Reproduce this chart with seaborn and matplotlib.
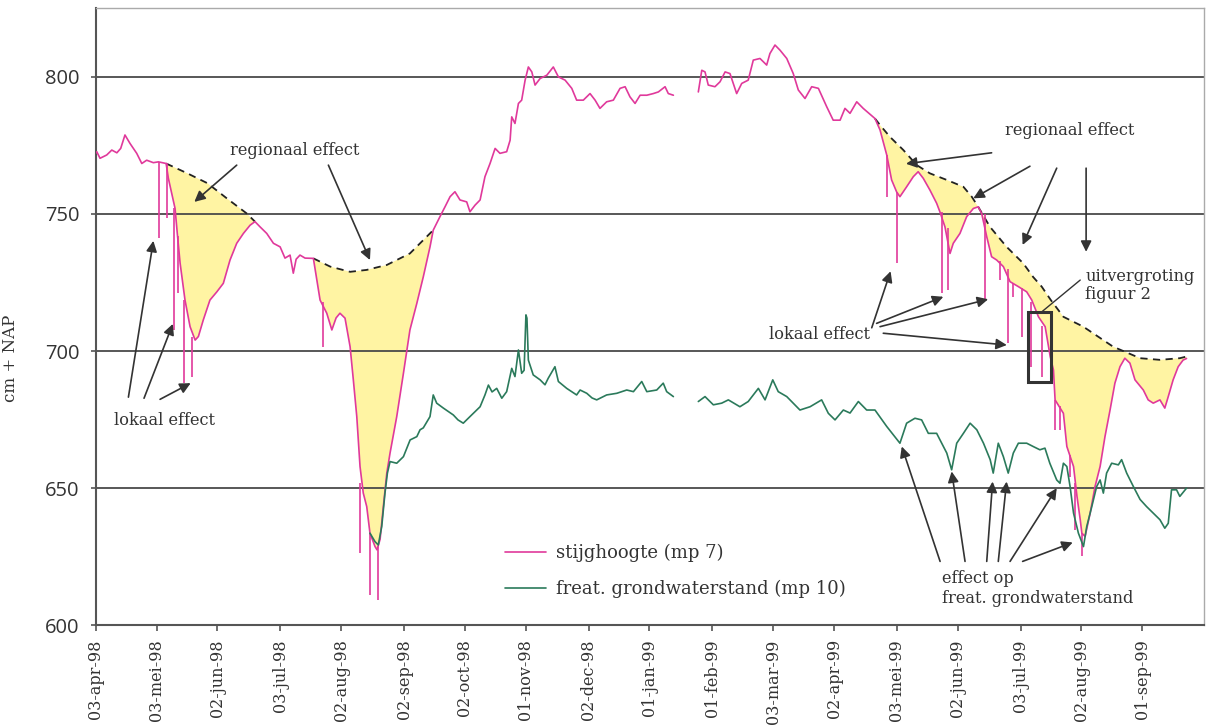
import numpy as np
import pandas as pd
import matplotlib
matplotlib.use("Agg")
import matplotlib.pyplot as plt
import matplotlib.dates as mdates
from matplotlib.lines import Line2D
from matplotlib.patches import Rectangle
import seaborn as sns

START = pd.Timestamp("1998-04-03")

# stijghoogte mp 7 (cm + NAP), dagen na 03-apr-98, zonder de korte pieken
stijg98_dag = [-1.5, 0.5, 2.1, 5.4, 7.9, 10.4, 12.3, 14.4, 16.9, 20.2, 22.7, 25.1, 28.4, 30.9, 34.7,
               35.8, 39.1, 40.2, 41.6, 44.0, 46.5, 49.0, 50.6, 53.0, 56.3, 59.7, 62.9, 66.2, 69.5,
               72.8, 76.1, 78.5, 81.0, 84.3, 87.6, 90.9, 93.3, 95.8, 97.4, 98.8, 100.7, 103.2, 107.3,
               110.6, 113.9, 116.4, 118.5, 120.4, 122.9, 125.4, 127.0, 128.7, 130.3, 131.9, 133.6,
               135.2, 137.7, 138.7, 140.2, 141.8, 143.5, 145.1, 148.4, 151.7, 154.9, 158.3, 161.5,
               164.8, 166.4, 169.7, 172.2, 174.7, 177.1, 179.6, 182.9, 184.5, 187.0, 189.5, 191.9,
               194.4, 196.9, 199.3, 202.6, 204.3, 205.1, 206.7, 208.4, 210.0, 211.7, 213.3, 215.0,
               216.6, 219.1, 222.4, 225.6, 228.1, 231.4, 234.7, 237.1, 240.4, 243.7, 246.2, 248.6,
               251.9, 255.2, 258.5, 261.0, 263.4, 265.9, 268.4, 271.7, 274.9, 277.4, 280.7, 282.3, 284.8]
stijg98_cm = [770.8, 772.7, 770.3, 771.5, 773.3, 772.3, 773.9, 778.8, 775.7, 772.1, 768.4, 769.6, 768.7, 769.0, 768.4,
              763.0, 752.0, 742.9, 732.0, 718.6, 708.9, 704.0, 705.3, 711.3, 718.6, 721.6, 724.7, 733.2, 739.3,
              742.9, 745.9, 747.2, 745.3, 742.9, 739.3, 738.0, 733.9, 735.0, 728.4, 733.5, 735.0, 733.9, 733.8,
              718.6, 713.8, 707.7, 712.1, 713.8, 712.0, 701.6, 689.5, 676.1, 657.9, 648.2, 643.3,
              633.6, 628.7, 627.5, 631.4, 643.3, 655.5, 662.8, 676.1, 691.9, 707.7, 717.4, 727.1,
              738.0, 744.1, 749.0, 752.6, 756.3, 758.1, 755.1, 754.4, 750.8, 753.2, 755.1, 763.6,
              768.4, 773.9, 772.1, 772.7, 776.9, 785.4, 783.0, 790.3, 791.5, 798.8, 803.6, 801.8,
              797.0, 799.4, 800.6, 803.6, 800.0, 798.8, 795.8, 791.5, 791.5, 793.9, 791.5, 788.5,
              790.9, 791.5, 795.8, 796.4, 792.7, 790.3, 793.3, 793.3, 793.9, 794.5, 796.4, 793.9, 793.3]

stijg99_dag = [297.1, 298.8, 300.4, 302.0, 305.3, 307.8, 310.3, 312.7, 316.0, 318.5, 321.7, 324.2, 327.5,
               330.8, 332.4, 334.9, 337.4, 340.7, 343.9, 346.4, 349.7, 353.0, 356.3, 360.4, 363.6, 367.0,
               369.4, 371.9, 375.2, 378.4, 384.2, 386.7, 390.0, 392.4, 394.9, 396.5, 399.8, 403.1, 405.5,
               408.0, 411.3, 414.6, 416.2, 418.7, 421.2, 422.8, 426.1, 429.4, 432.7, 435.1, 436.8, 439.3,
               441.7, 444.2, 447.5, 450.8, 454.9, 459.0, 461.5, 464.8, 468.1, 470.6, 472.2, 473.0, 477.1,
               478.8, 482.1, 483.8, 485.4, 486.2, 487.8, 490.3, 492.7, 495.2, 497.6, 500.1, 502.5, 505.0,
               507.4, 509.9, 512.4, 516.5, 518.9, 521.4, 524.7, 527.1, 528.8, 531.2, 533.7, 536.1, 537.8]
stijg99_cm = [794.5, 802.4, 801.8, 797.0, 796.4, 798.2, 801.8, 801.2, 793.9, 797.6, 798.8, 806.1, 806.7,
              804.3, 808.5, 811.6, 809.7, 806.7, 801.2, 795.2, 792.1, 796.4, 795.8, 789.1, 784.2, 784.2,
              788.5, 786.7, 790.9, 788.5, 784.8, 780.6, 771.5, 762.4, 758.0, 756.3, 759.9, 763.6, 765.4,
              763.0, 758.7, 753.9, 750.8, 745.3, 735.6, 739.3, 742.9, 749.0, 752.0, 752.6, 750.2, 741.7,
              734.4, 733.2, 730.8, 725.3, 723.5, 721.6, 718.6, 712.5, 708.9, 698.0, 693.1, 682.2, 677.3,
              665.2, 657.9, 647.0, 638.5, 633.6, 632.4, 640.9, 650.6, 657.9, 668.8, 678.5, 688.3, 694.3,
              697.4, 695.6, 689.5, 685.8, 682.2, 681.0, 682.2, 679.2, 683.4, 689.5, 694.3, 696.7, 697.3]

# korte pieken in de stijghoogte (lokaal effect): dag, bovenkant, onderkant
piek_dag = [31.1, 35.0, 38.6, 40.7, 43.6, 47.3, 112.2, 130.4, 135.2, 139.3,
            390.0, 394.9, 417.1, 420.4, 438.5, 445.8, 449.9, 452.4, 456.5, 461.0,
            466.4, 473.0, 475.5, 480.3, 482.8, 486.2]
piek_boven = [769.0, 768.4, 752.0, 742.0, 718.6, 705.3, 718.0, 652.0, 633.6, 629.0,
              771.5, 758.0, 750.8, 745.0, 750.0, 733.0, 730.0, 725.0, 723.0, 718.0,
              709.0, 682.0, 680.0, 662.0, 652.0, 633.6]
piek_onder = [741.1, 748.4, 707.7, 721.0, 688.3, 690.7, 701.6, 626.3, 611.1, 609.3,
              756.3, 732.0, 721.1, 722.3, 718.6, 726.0, 702.8, 719.8, 705.3, 694.3,
              690.7, 671.3, 671.3, 654.2, 634.8, 625.1]

# freatische grondwaterstand mp 10
freat98_dag = [135.2, 137.7, 139.3, 141.0, 142.6, 143.8, 145.1, 148.4, 151.7, 155.0, 158.3, 159.9, 161.5,
               164.8, 166.4, 168.1, 171.4, 176.3, 178.6, 181.2, 184.5, 189.5, 191.9, 193.6, 195.4, 197.7,
               200.2, 202.6, 205.1, 206.7, 208.4, 210.0, 211.2, 212.1, 212.6, 213.3, 215.7, 219.1, 221.5,
               223.1, 226.4, 228.1, 232.2, 237.1, 238.8, 242.1, 244.7, 247.0, 251.9, 256.9, 261.8, 265.1,
               269.2, 271.7, 276.6, 279.8, 281.5, 284.8]
freat98_cm = [633.6, 630.5, 629.3, 636.0, 648.2, 655.5, 659.7, 659.1, 661.5, 667.6, 668.8, 671.3, 672.0,
              676.1, 684.0, 681.0, 679.2, 676.7, 674.9, 673.7, 676.1, 679.7, 684.0, 687.6, 685.1, 686.4,
              682.8, 685.2, 693.7, 690.7, 700.4, 691.9, 693.0, 713.2, 712.0, 696.7, 691.3, 689.5, 687.7,
              690.1, 694.3, 688.9, 686.4, 684.0, 685.8, 684.6, 682.9, 682.2, 684.0, 684.6, 685.8, 685.2,
              688.9, 685.2, 685.8, 688.3, 685.2, 683.4]

freat99_dag = [297.1, 300.4, 304.5, 308.6, 311.9, 317.6, 321.7, 326.7, 330.0, 333.8, 336.5, 340.7, 347.2,
               352.2, 357.9, 361.2, 364.5, 368.6, 371.9, 376.0, 380.1, 384.2, 390.0, 396.5, 399.8, 403.9,
               407.2, 410.5, 414.6, 419.6, 422.0, 424.5, 427.8, 431.1, 434.4, 437.7, 441.0, 442.5, 445.0,
               447.5, 449.9, 452.4, 454.9, 459.0, 462.2, 465.5, 468.0, 470.4, 473.8, 475.4, 477.1, 478.8,
               480.4, 482.1, 484.5, 487.0, 488.6, 491.1, 493.5, 495.2, 496.8, 498.4, 500.9, 504.2, 505.8,
               508.3, 511.6, 514.9, 518.1, 521.4, 524.7, 527.1, 528.8, 530.4, 532.9, 534.5, 537.8]
freat99_cm = [681.6, 683.4, 680.4, 681.0, 682.2, 679.7, 681.6, 686.4, 682.2, 689.5, 685.2, 683.4, 678.5,
              679.7, 682.2, 677.3, 674.9, 678.5, 677.4, 681.6, 678.5, 678.5, 672.5, 666.4, 673.7, 675.5,
              674.9, 670.0, 670.0, 662.8, 656.7, 666.4, 670.0, 673.7, 671.3, 666.4, 660.4, 655.5, 666.4,
              661.5, 655.5, 662.8, 666.4, 666.4, 665.2, 664.0, 664.6, 659.1, 653.0, 651.8, 659.1, 657.9,
              650.6, 640.9, 633.6, 628.7, 636.0, 643.3, 650.6, 653.0, 648.2, 655.5, 659.1, 658.5, 660.4,
              655.5, 650.6, 645.9, 643.3, 640.9, 638.5, 635.4, 637.2, 649.4, 649.4, 647.0, 650.0]

# regionale trend (gestippelde lijnen)
regio1_dag = [34.7, 45.2, 55.1, 64.6, 74.4, 78.5]
regio1_cm = [768.4, 764.8, 761.2, 755.7, 750.2, 747.2]
regio2_dag = [107.3, 115.6, 125.4, 133.6, 143.5, 154.9, 166.4]
regio2_cm = [733.8, 730.8, 728.9, 729.6, 731.4, 735.6, 744.1]
regio3_dag = [384.2, 386.7, 391.6, 398.2, 404.8, 411.3, 419.6, 427.8, 431.9, 435.1, 440.9, 449.1,
              457.3, 462.2, 466.4, 470.9, 477.1, 486.9, 501.6, 514.9, 524.7, 534.5, 537.8]
regio3_cm = [784.8, 782.4, 778.1, 773.3, 767.8, 764.8, 762.4, 759.9, 756.3, 752.6, 745.3, 738.0,
             732.0, 727.0, 723.5, 718.6, 712.5, 708.9, 701.6, 697.4, 696.8, 697.4, 698.0]

tick_datums = ["1998-04-03", "1998-05-03", "1998-06-02", "1998-07-03", "1998-08-02", "1998-09-02",
               "1998-10-02", "1998-11-01", "1998-12-02", "1999-01-01", "1999-02-01", "1999-03-03",
               "1999-04-02", "1999-05-03", "1999-06-02", "1999-07-03", "1999-08-02", "1999-09-01"]
tick_labels = ["03-apr-98", "03-mei-98", "02-jun-98", "03-jul-98", "02-aug-98", "02-sep-98",
               "02-oct-98", "01-nov-98", "02-dec-98", "01-jan-99", "01-feb-99", "03-mar-99",
               "02-apr-99", "03-mei-99", "02-jun-99", "03-jul-99", "02-aug-99", "01-sep-99"]

ROZE = "#e0399b"
GROEN = "#2b7a5b"
GEEL = "#fff4a3"
TEKST = "#333333"


def to_x(dagen):
    return mdates.date2num(START) + np.asarray(dagen, dtype=float)


def reeks(stukken):
    rows = []
    for i, (dag, cm) in enumerate(stukken):
        rows.append(pd.DataFrame({"x": to_x(dag), "cm": cm, "deel": i}))
    return pd.concat(rows, ignore_index=True)


sns.set_theme(style="white")
plt.rcParams["font.family"] = ["DejaVu Serif"]

fig = plt.figure(figsize=(12.06, 7.27), dpi=100)
ax = fig.add_axes([0.0794, 0.1399, 0.9189, 0.8487])

# gele vlakken tussen regionale trend en stijghoogte
for rdag, rcm, bdag, bcm in [(regio1_dag, regio1_cm, stijg98_dag, stijg98_cm),
                             (regio2_dag, regio2_cm, stijg98_dag, stijg98_cm),
                             (regio3_dag, regio3_cm, stijg99_dag, stijg99_cm)]:
    bdag = np.asarray(bdag)
    bcm = np.asarray(bcm)
    sel = (bdag >= rdag[0]) & (bdag <= rdag[-1])
    px = np.concatenate([to_x(rdag), to_x(bdag[sel][::-1])])
    py = np.concatenate([rcm, bcm[sel][::-1]])
    ax.fill(px, py, color=GEEL, lw=0, zorder=1)

for rdag, rcm in [(regio1_dag, regio1_cm), (regio2_dag, regio2_cm), (regio3_dag, regio3_cm)]:
    ax.plot(to_x(rdag), rcm, color="#222222", lw=1.3, ls=(0, (4, 3)), zorder=3)

stijg = reeks([(stijg98_dag, stijg98_cm), (stijg99_dag, stijg99_cm)])
freat = reeks([(freat98_dag, freat98_cm), (freat99_dag, freat99_cm)])

sns.lineplot(data=stijg, x="x", y="cm", units="deel", estimator=None, sort=False,
             color=ROZE, lw=1.2, ax=ax, legend=False, zorder=4)
ax.vlines(to_x(piek_dag), piek_onder, piek_boven, color=ROZE, lw=1.2, zorder=4)
sns.lineplot(data=freat, x="x", y="cm", units="deel", estimator=None, sort=False,
             color=GROEN, lw=1.2, ax=ax, legend=False, zorder=5)

ax.set_xlim(to_x(0), to_x(546.4))
ax.set_ylim(600, 825)
ax.set_yticks([600, 650, 700, 750, 800])
ax.set_xticks(mdates.date2num(pd.to_datetime(tick_datums)))
ax.set_xticklabels(tick_labels, rotation=90)
ax.set_xlabel("")
ax.set_ylabel("cm + NAP", fontsize=12, color=TEKST)
ax.yaxis.set_label_coords(-0.069, 0.432)

ax.set_axisbelow("line")
ax.grid(axis="y", color="#4a4a4a", lw=1.3)
ax.grid(axis="x", visible=False)

ax.tick_params(axis="x", bottom=True, direction="out", length=4.5, width=1.2, color="#555555",
               pad=5.5, labelsize=11.5, labelcolor=TEKST)
ax.tick_params(axis="y", left=True, direction="out", length=3.6, width=1.2, color="#555555",
               pad=8, labelsize=14.5, labelcolor=TEKST)
for lab in ax.get_yticklabels():
    lab.set_fontfamily("Open Sans")

for kant in ["left", "bottom"]:
    ax.spines[kant].set_color("#555555")
    ax.spines[kant].set_linewidth(1.5)
for kant in ["top", "right"]:
    ax.spines[kant].set_color("#aaaaaa")
    ax.spines[kant].set_linewidth(1.0)

# rechthoek: uitvergroting figuur 2
x0 = to_x(459.7)
ax.add_patch(Rectangle((x0, 688.9), to_x(470.8) - x0, 714.4 - 688.9, fill=False,
                       edgecolor="#333333", lw=2.2, zorder=6))

pijlstijl = dict(arrowstyle="-|>", color="#333333", lw=1.2, mutation_scale=16,
                 shrinkA=0, shrinkB=0)


def pijlen(staarten, koppen):
    for (sd, sc), (kd, kc) in zip(staarten, koppen):
        ax.annotate("", xy=(to_x(kd), kc), xytext=(to_x(sd), sc), arrowprops=pijlstijl, zorder=7)


ax.text(to_x(98.3), 773.3, "regionaal effect", fontsize=11.7, color=TEKST, ha="center", va="center")
pijlen([(69.5, 767.8), (114.7, 767.8)], [(48.6, 754.4), (135.2, 733.2)])

ax.text(to_x(34.0), 674.5, "lokaal effect", fontsize=11.7, color=TEKST, ha="center", va="center")
pijlen([(16.1, 683.2), (23.8, 682.8), (31.7, 682.4)], [(28.4, 740.2), (38.0, 709.9), (46.8, 688.3)])

ax.text(to_x(480.4), 780.4, "regionaal effect", fontsize=11.7, color=TEKST, ha="center", va="center")
pijlen([(441.7, 772.3), (460.6, 767.4), (473.8, 766.7), (488.3, 766.7)],
       [(399.5, 768.3), (432.7, 755.7), (457.0, 738.7), (488.3, 736.2)])

ax.text(to_x(487.8), 724.0, "uitvergroting\nfiguur 2", fontsize=11.7, color=TEKST,
        ha="left", va="center", linespacing=1.1)
ax.annotate("", xy=(to_x(465.6), 713.8), xytext=(to_x(485.4), 725.9),
            arrowprops=dict(arrowstyle="-", color="#333333", lw=1.0, shrinkA=0, shrinkB=0))

ax.text(to_x(356.9), 706.0, "lokaal effect", fontsize=11.7, color=TEKST, ha="center", va="center")
pijlen([(382.6, 708.5), (385.0, 710.1), (386.7, 708.9), (388.3, 706.5)],
       [(391.9, 729.1), (417.9, 719.8), (440.0, 718.9), (449.2, 702.2)])

ax.text(to_x(417.1), 613.5, "effect op\nfreat. grondwaterstand", fontsize=11.7, color=TEKST,
        ha="left", va="center", linespacing=1.25)
pijlen([(416.3, 623.3), (428.6, 623.3), (439.3, 623.3), (445.0, 623.3), (450.8, 623.3), (457.0, 623.3)],
       [(397.4, 665.2), (422.0, 656.1), (442.2, 652.4), (449.1, 652.4), (473.8, 650.0), (481.7, 630.2)])

handles = [Line2D([], [], color=ROZE, lw=1.2), Line2D([], [], color=GROEN, lw=1.2)]
ax.legend(handles, ["stijghoogte (mp 7)", "freat. grondwaterstand (mp 10)"],
          loc="center left", bbox_to_anchor=(0.369, 0.088), frameon=False, fontsize=13,
          handlelength=2.3, handletextpad=0.55, borderpad=0, borderaxespad=0,
          labelspacing=0.95, labelcolor=TEKST)

fig.savefig("out.png", dpi=100)
